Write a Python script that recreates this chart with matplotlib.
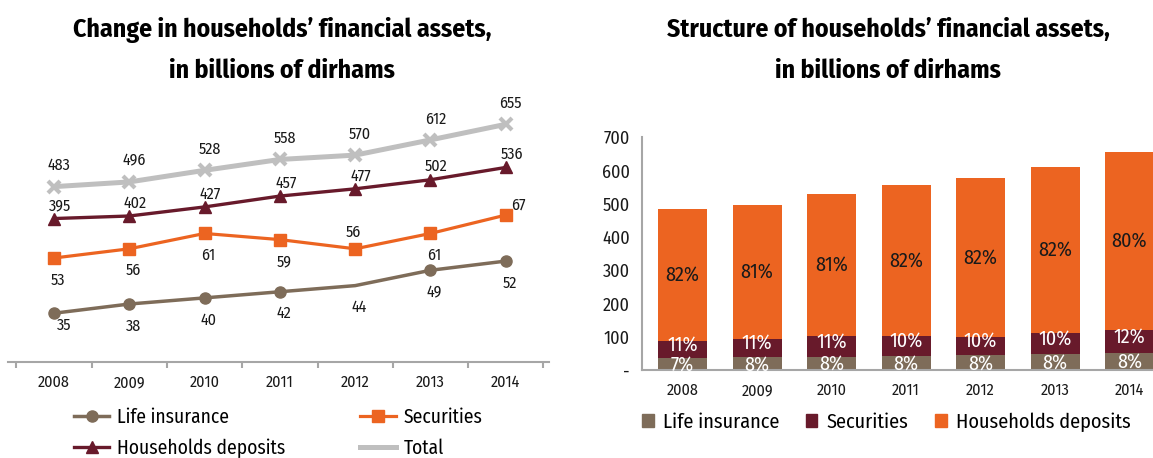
import matplotlib
matplotlib.use('Agg')
import matplotlib.pyplot as plt
import matplotlib.font_manager as fm
from matplotlib.lines import Line2D
from matplotlib.patches import Patch
import numpy as np

# ---------------- data ----------------
years = ['2008', '2009', '2010', '2011', '2012', '2013', '2014']
life_insurance = [35, 38, 40, 42, 44, 49, 52]
securities = [53, 56, 61, 59, 56, 61, 67]
households_deposits = [395, 402, 427, 457, 477, 502, 536]
total = [483, 496, 528, 558, 570, 612, 655]

pct_life = ['7%', '8%', '8%', '8%', '8%', '8%', '8%']
pct_sec = ['11%', '11%', '11%', '10%', '10%', '10%', '12%']
pct_dep = ['82%', '81%', '81%', '82%', '82%', '82%', '80%']

bar_yticks = [0, 100, 200, 300, 400, 500, 600, 700]
bar_yticklabels = ['-', '100', '200', '300', '400', '500', '600', '700']

title_left = ['Change in households\u2019 financial assets,', 'in billions of dirhams']
title_right = ['Structure of households\u2019 financial assets,', 'in billions of dirhams']
legend_left = ['Life insurance', 'Households deposits', 'Securities', 'Total']
legend_right = ['Life insurance', 'Securities', 'Households deposits']

# ---------------- font ----------------
entries = fm.fontManager.ttflist
def has_regular(name):
    return any(f.name == name and str(f.weight) in ('400', 'normal', 'regular', 'book')
               and f.style == 'normal' for f in entries)
FONT = 'Liberation Sans'
for cand in ['Fira Sans Condensed', 'PT Sans Narrow', 'Asap Condensed', 'Roboto Condensed',
             'Archivo Narrow', 'Encode Sans Condensed', 'Barlow Semi Condensed',
             'IBM Plex Sans Condensed', 'Liberation Sans Narrow']:
    if has_regular(cand):
        FONT = cand
        break
plt.rcParams['font.family'] = [FONT, 'DejaVu Sans']
plt.rcParams['font.weight'] = 'normal'

# ---------------- styles ----------------
C_LIFE = '#7E6C59'
C_SEC = '#EC6421'
C_DEP = '#681A2B'
C_TOT = '#BFBFBF'
C_AX = '#A6A6A6'
TXT = '#1A1A1A'

W, H = 1153, 458
def fx(px):
    return px / W
def fy(py):
    return 1 - py / H

fig = plt.figure(figsize=(W / 100, H / 100), dpi=100)

# ================= left: line chart =================
ax = fig.add_axes([fx(8), fy(361.7), fx(549) - fx(8), fy(108) - fy(361.7)])
ax2 = ax.twinx()
x = np.arange(len(years))
ax.set_xlim(-0.61, 6.574)
ax.set_ylim(0, 700)
ax2.set_ylim(19.2, 101.9)

ax.plot(x, total, color=C_TOT, lw=3.6, marker='x', ms=9, mew=3, zorder=3)
ax.plot(x, households_deposits, color=C_DEP, lw=2.4, marker='^', ms=9, zorder=3)
ax2.plot(x, securities, color=C_SEC, lw=2.3, marker='s', ms=8.5, zorder=3)
ax2.plot(x, life_insurance, color=C_LIFE, lw=2.5, marker='o', ms=8,
         markevery=[0, 1, 2, 3, 5, 6], zorder=3)

off_tot = [(5, 21)] * 7
off_dep = [(6, 13)] * 7
off_sec = [(4, -22), (4, -22), (4, -22), (4, -22), (-2, 16), (4, -22), (13, 10)]
off_life = [(10, -12), (4, -22), (4, -22), (4, -22), (4, -22), (4, -22), (4, -22)]
LBL = 11.5
for i in range(len(years)):
    ax.annotate(str(total[i]), (x[i], total[i]), xytext=off_tot[i], textcoords='offset pixels',
                ha='center', va='center', fontsize=LBL, color=TXT)
    ax.annotate(str(households_deposits[i]), (x[i], households_deposits[i]), xytext=off_dep[i],
                textcoords='offset pixels', ha='center', va='center', fontsize=LBL, color=TXT)
    ax2.annotate(str(securities[i]), (x[i], securities[i]), xytext=off_sec[i],
                 textcoords='offset pixels', ha='center', va='center', fontsize=LBL, color=TXT)
    ax2.annotate(str(life_insurance[i]), (x[i], life_insurance[i]), xytext=off_life[i],
                 textcoords='offset pixels', ha='center', va='center', fontsize=LBL, color=TXT)

for s in ['top', 'left', 'right']:
    ax.spines[s].set_visible(False)
for s in ax2.spines.values():
    s.set_visible(False)
ax.spines['bottom'].set_color(C_AX)
ax.spines['bottom'].set_linewidth(1.5)
ax.set_yticks([])
ax2.set_yticks([])
ax.set_xticks(x)
ax.set_xticklabels(years, fontsize=11.5, color=TXT)
ax.set_xticks(np.arange(-0.5, len(years), 1), minor=True)
ax.tick_params(axis='x', which='major', length=0, pad=9)
ax.tick_params(axis='x', which='minor', length=4, width=1.5, color=C_AX, direction='out')

h_left = [
    Line2D([], [], color=C_LIFE, lw=2.5, marker='o', ms=8),
    Line2D([], [], color=C_DEP, lw=2.4, marker='^', ms=8),
    Line2D([], [], color=C_SEC, lw=2.3, marker='s', ms=8),
    Line2D([], [], color=C_TOT, lw=3.6),
]
fig.legend(h_left, legend_left, loc='center left', bbox_to_anchor=(fx(74), fy(432.5)),
           ncol=2, frameon=False, fontsize=14, handlelength=1.82, handletextpad=0.41,
           columnspacing=3.85, labelspacing=0.58, borderpad=0, borderaxespad=0)

# ================= right: stacked bars =================
axb = fig.add_axes([fx(642.3), fy(370), 1 - fx(642.3), fy(137.3) - fy(370)])
axb.set_xlim(-0.54, 6.315)
axb.set_ylim(0, 700)
bw = 0.658
life_arr = np.array(life_insurance)
sec_arr = np.array(securities)
dep_arr = np.array(households_deposits)
axb.bar(x, life_arr, bw, color=C_LIFE, zorder=2)
axb.bar(x, sec_arr, bw, bottom=life_arr, color=C_DEP, zorder=2)
axb.bar(x, dep_arr, bw, bottom=life_arr + sec_arr, color=C_SEC, zorder=2)

for i in range(len(years)):
    axb.annotate(pct_life[i], (x[i], life_arr[i] / 2), xytext=(0, -1), textcoords='offset pixels',
                 ha='center', va='center', fontsize=14.5, color='white', zorder=4)
    axb.annotate(pct_sec[i], (x[i], life_arr[i] + sec_arr[i] / 2), xytext=(0, 5),
                 textcoords='offset pixels', ha='center', va='center', fontsize=14.5,
                 color='white', zorder=4)
    axb.annotate(pct_dep[i], (x[i], life_arr[i] + sec_arr[i] + dep_arr[i] / 2), xytext=(0, 0),
                 textcoords='offset pixels', ha='center', va='center', fontsize=14.5,
                 color=TXT, zorder=4)

for s in ['top', 'right']:
    axb.spines[s].set_visible(False)
for s in ['left', 'bottom']:
    axb.spines[s].set_color(C_AX)
    axb.spines[s].set_linewidth(1.5)
    axb.spines[s].set_zorder(3)
axb.set_yticks(bar_yticks)
axb.set_yticklabels(bar_yticklabels, fontsize=13, color=TXT)
axb.set_xticks(x)
axb.set_xticklabels(years, fontsize=11.5, color=TXT)
axb.tick_params(axis='y', length=0, pad=9)
axb.tick_params(axis='x', length=0, pad=9)

h_right = [Patch(color=C_LIFE), Patch(color=C_DEP), Patch(color=C_SEC)]
fig.legend(h_right, legend_right, loc='center left', bbox_to_anchor=(fx(642), fy(422)),
           ncol=3, frameon=False, fontsize=14.6, handlelength=0.575, handleheight=0.575,
           handletextpad=0.46, columnspacing=1.3, borderpad=0, borderaxespad=0)

# ================= titles =================
TS = 18.5
for txt, px, py in [(title_left[0], 282, 36.7), (title_left[1], 282, 78.3),
                    (title_right[0], 888, 36.7), (title_right[1], 888, 78.3)]:
    fig.text(fx(px), fy(py), txt, ha='center', va='baseline', fontsize=TS,
             fontweight='bold', color='black')

fig.savefig('out.png', dpi=100)
